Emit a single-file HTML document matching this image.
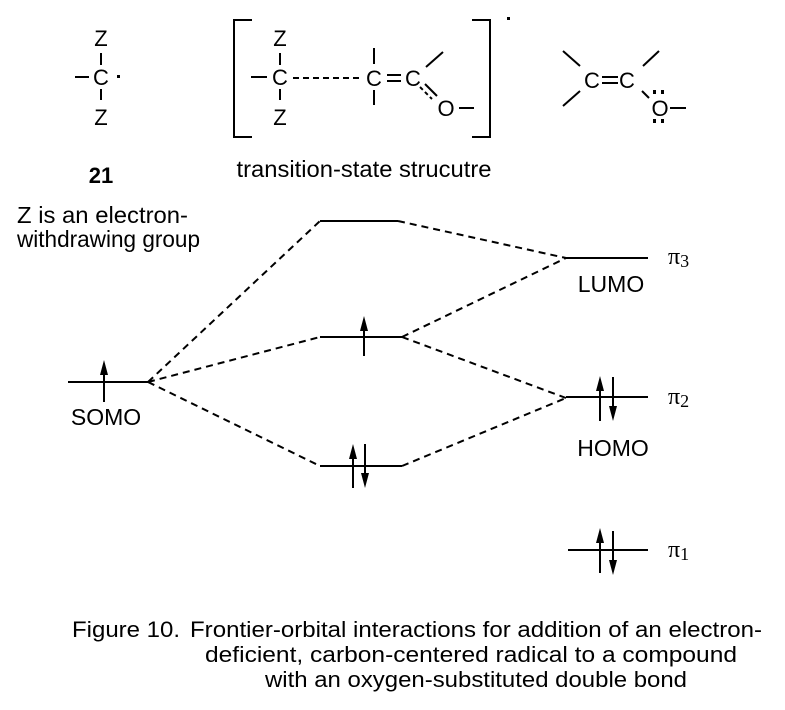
<!DOCTYPE html>
<html><head><meta charset="utf-8"><style>html,body{margin:0;padding:0;background:#fff}svg{display:block}</style></head>
<body>
<svg width="785" height="710" viewBox="0 0 785 710" xmlns="http://www.w3.org/2000/svg">
<g font-family="Liberation Sans, Arial, sans-serif" font-size="22" fill="#000" text-anchor="middle">
<!-- structure 21 -->
<text x="101" y="46">Z</text><text x="101" y="85">C</text><text x="101" y="125">Z</text>
<g stroke="#000" stroke-width="2">
<line x1="101" y1="53" x2="101" y2="65"/><line x1="101" y1="89" x2="101" y2="100"/>
<line x1="75" y1="77" x2="89" y2="77"/>
</g>
<rect x="117" y="75" width="3" height="3"/>
<!-- transition state -->
<g stroke="#000" stroke-width="2" fill="none">
<polyline points="252,20 234,20 234,137 252,137"/>
<polyline points="472,20 490,20 490,137 472,137"/>
<line x1="280" y1="53" x2="280" y2="65"/><line x1="280" y1="89" x2="280" y2="100"/>
<line x1="251" y1="77" x2="267" y2="77"/>
<line x1="293" y1="78" x2="362" y2="78" stroke-dasharray="6,4"/>
<line x1="374" y1="48" x2="374" y2="64"/><line x1="374" y1="90" x2="374" y2="105"/>
<line x1="387" y1="75" x2="401" y2="75"/><line x1="387" y1="81" x2="401" y2="81"/>
<line x1="426" y1="67" x2="443" y2="52"/>
<line x1="420" y1="87" x2="432" y2="99" stroke-dasharray="4,3"/>
<line x1="425" y1="84" x2="437" y2="96"/>
<line x1="459" y1="108" x2="474" y2="108"/>
</g>
<text x="374" y="86">C</text><text x="413" y="86">C</text><text x="446" y="116">O</text>
<text x="280" y="46">Z</text><text x="280" y="85">C</text><text x="280" y="125">Z</text>
<rect x="507" y="17" width="3" height="3"/>
<!-- right structure -->
<g stroke="#000" stroke-width="2">
<line x1="563" y1="51" x2="580" y2="66"/><line x1="563" y1="106" x2="580" y2="91"/>
<line x1="602" y1="77" x2="618" y2="77"/><line x1="602" y1="83" x2="618" y2="83"/>
<line x1="643" y1="66" x2="659" y2="51"/><line x1="642" y1="91" x2="649" y2="98"/>
<line x1="670" y1="108" x2="686" y2="108"/>
</g>
<text x="592" y="88">C</text><text x="627" y="88">C</text><text x="660" y="116">O</text>
<rect x="653" y="90" width="3" height="4"/><rect x="661" y="90" width="3" height="4"/>
<rect x="653" y="119" width="3" height="4"/><rect x="661" y="119" width="3" height="4"/>
<!-- labels -->
<text x="101" y="183" font-weight="bold">21</text>
<text x="364" y="177" font-size="23" textLength="255" lengthAdjust="spacingAndGlyphs">transition-state strucutre</text>
<g font-size="23" text-anchor="start">
<text x="17" y="223" textLength="171" lengthAdjust="spacingAndGlyphs">Z is an electron-</text>
<text x="17" y="247" textLength="183" lengthAdjust="spacingAndGlyphs">withdrawing group</text>
</g>
<text x="106" y="425" font-size="23">SOMO</text>
<text x="611" y="292" font-size="23">LUMO</text>
<text x="613" y="456" font-size="23">HOMO</text>
<g font-family="Liberation Serif, serif" font-size="24" text-anchor="start">
<text x="668" y="264">π<tspan font-size="18" dy="3">3</tspan></text>
<text x="668" y="404">π<tspan font-size="18" dy="3">2</tspan></text>
<text x="668" y="557">π<tspan font-size="18" dy="3">1</tspan></text>
</g>
<!-- levels -->
<g stroke="#000" stroke-width="2">
<line x1="68" y1="382" x2="148" y2="382"/>
<line x1="320" y1="221" x2="398" y2="221"/>
<line x1="320" y1="337" x2="402" y2="337"/>
<line x1="320" y1="466" x2="402" y2="466"/>
<line x1="564" y1="258" x2="648" y2="258"/>
<line x1="566" y1="397" x2="648" y2="397"/>
<line x1="568" y1="550" x2="648" y2="550"/>
<line x1="104" y1="402" x2="104" y2="372"/>
<line x1="364" y1="356" x2="364" y2="328"/>
<line x1="353" y1="488" x2="353" y2="456"/>
<line x1="365" y1="444" x2="365" y2="476"/>
<line x1="600" y1="421" x2="600" y2="388"/>
<line x1="613" y1="377" x2="613" y2="409"/>
<line x1="600" y1="573" x2="600" y2="540"/>
<line x1="613" y1="531" x2="613" y2="563"/>
</g>
<g fill="#000">
<polygon points="100,375 104,360 108,375"/>
<polygon points="360,331 364,316 368,331"/>
<polygon points="349,459 353,444 357,459"/>
<polygon points="361,473 365,488 369,473"/>
<polygon points="596,391 600,376 604,391"/>
<polygon points="609,406 613,421 617,406"/>
<polygon points="596,543 600,528 604,543"/>
<polygon points="609,560 613,575 617,560"/>
</g>
<g stroke="#000" stroke-width="2" stroke-dasharray="7,5" fill="none">
<line x1="148" y1="382" x2="320" y2="221"/>
<line x1="148" y1="382" x2="320" y2="337"/>
<line x1="148" y1="382" x2="320" y2="466"/>
<line x1="398" y1="221" x2="566" y2="258"/>
<line x1="402" y1="337" x2="566" y2="258"/>
<line x1="402" y1="337" x2="566" y2="398"/>
<line x1="402" y1="466" x2="566" y2="398"/>
</g>
<!-- caption -->
<g font-size="22">
<text x="72" y="637" text-anchor="start" textLength="108" lengthAdjust="spacingAndGlyphs">Figure 10.</text>
<text x="190" y="637" text-anchor="start" textLength="572" lengthAdjust="spacingAndGlyphs">Frontier-orbital interactions for addition of an electron-</text>
<text x="205" y="662" text-anchor="start" textLength="532" lengthAdjust="spacingAndGlyphs">deficient, carbon-centered radical to a compound</text>
<text x="265" y="687" text-anchor="start" textLength="422" lengthAdjust="spacingAndGlyphs">with an oxygen-substituted double bond</text>
</g>
</g>
</svg>
</body></html>
